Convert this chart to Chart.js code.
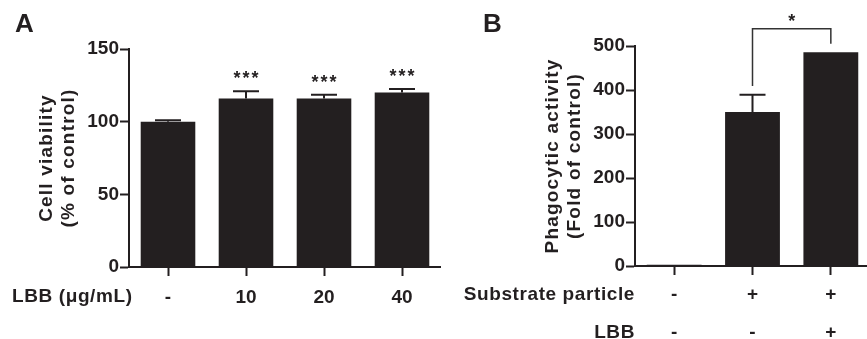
<!DOCTYPE html>
<html>
<head>
<meta charset="utf-8">
<script src="https://cdn.jsdelivr.net/npm/chart.js@4.4.0/dist/chart.umd.min.js"></script>
<style>
html, body { margin: 0; padding: 0; background: #fff; overflow: hidden; width: 867px; height: 339px; }
#chartA { position: absolute; left: 0; top: 0; }
#chartB { position: absolute; left: 440px; top: 0; }
</style>
</head>
<body>
<canvas id="chartA" width="441" height="339"></canvas>
<canvas id="chartB" width="430" height="339"></canvas>
<script>
// panel A - cell viability
const doseLabels = ['-', '10', '20', '40']
const viability = [100, 116, 116, 120]
const viabilityErr = [1, 5, 2.5, 2.5]
const viabilityStars = ['', '***', '***', '***']
const viabilityTicks = [0, 50, 100, 150]

// panel B - phagocytic activity
const substrateRow = ['-', '+', '+']
const lbbRow = ['-', '-', '+']
const phago = [3, 350, 486]
const phagoErr = [0, 39, 0]
const phagoTicks = [0, 100, 200, 300, 400, 500]
// bracket bar 2 -> bar 3 : top, left foot, right foot (axis units)
const bracketB = [539, 409, 505]

const ink = '#231f20'
const fam = '"Liberation Sans", Arial, sans-serif'
const tickFont = { family: fam, size: 19, weight: 'bold' }

function errorBars(chart, errs) {
  const ctx = chart.ctx
  const y = chart.scales.y
  const vals = chart.data.datasets[0].data
  ctx.save()
  ctx.strokeStyle = ink
  ctx.lineWidth = 2
  chart.getDatasetMeta(0).data.forEach((bar, i) => {
    if (!errs[i]) return
    const top = y.getPixelForValue(vals[i] + errs[i])
    ctx.beginPath()
    ctx.moveTo(bar.x, bar.y)
    ctx.lineTo(bar.x, top)
    ctx.moveTo(bar.x - 13, top)
    ctx.lineTo(bar.x + 13, top)
    ctx.stroke()
  })
  ctx.restore()
}

function yTitle(chart, lines, xs) {
  const ctx = chart.ctx
  const a = chart.chartArea
  const cy = (a.top + a.bottom) / 2
  ctx.save()
  ctx.fillStyle = ink
  ctx.font = 'bold 19px ' + fam
  ctx.letterSpacing = '1.2px'
  ctx.textAlign = 'center'
  ctx.textBaseline = 'middle'
  lines.forEach((t, i) => {
    ctx.save()
    ctx.translate(xs[i], cy)
    ctx.rotate(-Math.PI / 2)
    ctx.fillText(t, 0, 0)
    ctx.restore()
  })
  ctx.restore()
}

function panelLetter(chart, txt, x) {
  const ctx = chart.ctx
  ctx.save()
  ctx.fillStyle = ink
  ctx.font = 'bold 26px ' + fam
  ctx.textBaseline = 'alphabetic'
  ctx.fillText(txt, x, 32)
  ctx.restore()
}

function rowLabel(chart, txt, x, y, align) {
  const ctx = chart.ctx
  ctx.save()
  ctx.fillStyle = ink
  ctx.font = 'bold 19px ' + fam
  ctx.letterSpacing = '0.6px'
  ctx.textAlign = align
  ctx.textBaseline = 'middle'
  ctx.fillText(txt, x, y)
  ctx.restore()
}

function axisOpts(extra) {
  return Object.assign({
    grid: { drawOnChartArea: false, tickLength: 9, tickWidth: 2, tickColor: ink },
    border: { color: ink, width: 2 }
  }, extra)
}

new Chart(document.getElementById('chartA'), {
  type: 'bar',
  data: {
    labels: doseLabels,
    datasets: [{ data: viability, backgroundColor: ink, categoryPercentage: 1, barPercentage: 0.7 }]
  },
  options: {
    responsive: false,
    animation: false,
    layout: { padding: { top: 49, left: 0, right: 0, bottom: 0 } },
    plugins: { legend: { display: false }, tooltip: { enabled: false } },
    scales: {
      x: axisOpts({
        grid: { offset: false, drawOnChartArea: false, tickLength: 9, tickWidth: 2, tickColor: ink },
        ticks: { color: ink, font: tickFont, padding: 10 },
        afterFit: s => { s.height = 72 }
      }),
      y: axisOpts({
        min: 0, max: 150,
        ticks: { color: ink, font: tickFont, padding: 1 },
        afterBuildTicks: s => { s.ticks = viabilityTicks.map(v => ({ value: v })) },
        afterFit: s => { s.width = 129 }
      })
    }
  },
  plugins: [{
    id: 'extrasA',
    afterDatasetsDraw(chart) {
      errorBars(chart, viabilityErr)
      const ctx = chart.ctx
      const y = chart.scales.y
      ctx.save()
      ctx.fillStyle = ink
      ctx.font = 'bold 18px ' + fam
      ctx.letterSpacing = '2px'
      ctx.textAlign = 'center'
      chart.getDatasetMeta(0).data.forEach((bar, i) => {
        if (!viabilityStars[i]) return
        ctx.fillText(viabilityStars[i], bar.x + 1, y.getPixelForValue(viability[i] + viabilityErr[i]) - 7)
      })
      ctx.restore()
      yTitle(chart, ['Cell viability', '(% of control)'], [47, 69])
      panelLetter(chart, 'A', 15)
      rowLabel(chart, 'LBB (\u03bcg/mL)', 12, 297, 'left')
    }
  }]
})

new Chart(document.getElementById('chartB'), {
  type: 'bar',
  data: {
    labels: substrateRow.map((s, i) => [s, lbbRow[i]]),
    datasets: [{ data: phago, backgroundColor: ink, categoryPercentage: 1, barPercentage: 0.7 }]
  },
  options: {
    responsive: false,
    animation: false,
    layout: { padding: { top: 46, left: 0, right: 0, bottom: 0 } },
    plugins: { legend: { display: false }, tooltip: { enabled: false } },
    scales: {
      x: axisOpts({
        grid: { offset: false, drawOnChartArea: false, tickLength: 9, tickWidth: 2, tickColor: ink },
        ticks: { color: ink, font: Object.assign({}, tickFont, { lineHeight: 2.0 }), padding: 1 },
        afterFit: s => { s.height = 73 }
      }),
      y: axisOpts({
        min: 0, max: 500,
        ticks: { color: ink, font: tickFont, padding: 1 },
        afterBuildTicks: s => { s.ticks = phagoTicks.map(v => ({ value: v })) },
        afterFit: s => { s.width = 195 }
      })
    }
  },
  plugins: [{
    id: 'extrasB',
    afterDatasetsDraw(chart) {
      errorBars(chart, phagoErr)
      const ctx = chart.ctx
      const y = chart.scales.y
      const bars = chart.getDatasetMeta(0).data
      const x1 = bars[1].x, x2 = bars[2].x
      const top = y.getPixelForValue(bracketB[0])
      ctx.save()
      ctx.strokeStyle = '#333'
      ctx.lineWidth = 1.5
      ctx.beginPath()
      ctx.moveTo(x1, y.getPixelForValue(bracketB[1]))
      ctx.lineTo(x1, top)
      ctx.lineTo(x2, top)
      ctx.lineTo(x2, y.getPixelForValue(bracketB[2]))
      ctx.stroke()
      ctx.fillStyle = ink
      ctx.font = 'bold 18px ' + fam
      ctx.textAlign = 'center'
      ctx.fillText('*', (x1 + x2) / 2, top - 2)
      ctx.restore()
      yTitle(chart, ['Phagocytic activity', '(Fold of control)'], [113, 135])
      panelLetter(chart, 'B', 43)
      const a = chart.chartArea
      rowLabel(chart, 'Substrate particle', a.left, 295, 'right')
      rowLabel(chart, 'LBB', a.left, 333, 'right')
    }
  }]
})
</script>
</body>
</html>
